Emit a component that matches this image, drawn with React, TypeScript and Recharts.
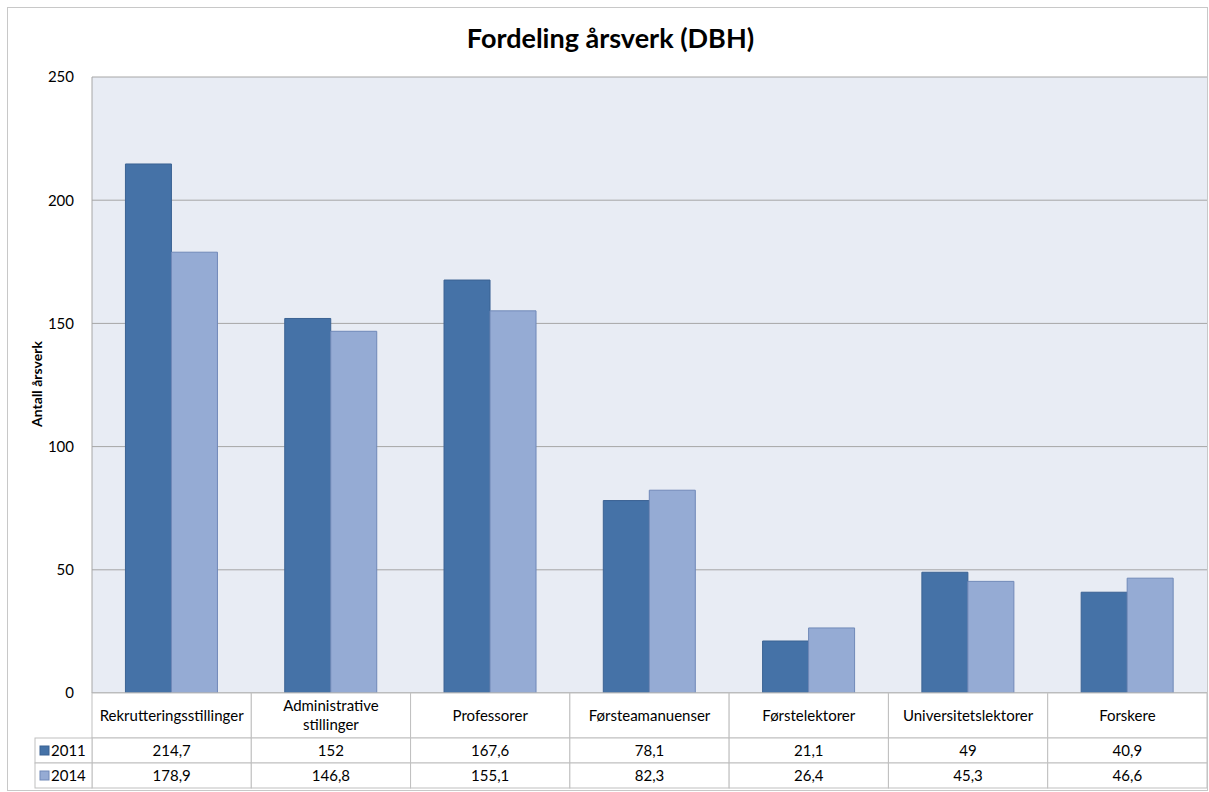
import React from "react";
import { BarChart, Bar, XAxis, YAxis, CartesianGrid } from "recharts";

const categories = [
  "Rekrutteringsstillinger",
  "Administrative stillinger",
  "Professorer",
  "Førsteamanuenser",
  "Førstelektorer",
  "Universitetslektorer",
  "Forskere",
];
const values2011 = [214.7, 152, 167.6, 78.1, 21.1, 49, 40.9];
const values2014 = [178.9, 146.8, 155.1, 82.3, 26.4, 45.3, 46.6];
const yTicks = [0, 50, 100, 150, 200, 250];
const seriesNames = ["2011", "2014"];

const data = categories.map((c, i) => ({ name: c, s2011: values2011[i], s2014: values2014[i] }));

const W = 1209;
const H = 792;
const PLOT_LEFT = 92;
const PLOT_RIGHT = 1207;
const PLOT_TOP = 77;
const PLOT_BOTTOM = 693;
const CELL_W = (PLOT_RIGHT - PLOT_LEFT) / categories.length;
const HEAD_H = 45;
const ROW_H = 25;
const FONT = "Lato, 'Open Sans', sans-serif";
const C1 = "#4572A7";
const C1S = "#3B6293";
const C2 = "#95ABD4";
const C2S = "#7089B8";
const BORDER = "#BFBFBF";
const FS = 15;

const fmt = (v: number) => String(v).replace(".", ",");

const TableTick = (props: any) => {
  const { payload, index } = props;
  const i = index ?? payload?.index ?? 0;
  const x0 = PLOT_LEFT + i * CELL_W;
  const cx = x0 + CELL_W / 2;
  const label = String(payload?.value ?? "");
  const y0 = PLOT_BOTTOM;
  const words = label === "Administrative stillinger" ? ["Administrative", "stillinger"] : [label];
  return (
    <g>
      <rect x={x0} y={y0} width={CELL_W} height={HEAD_H} fill="#fff" stroke={BORDER} />
      <rect x={x0} y={y0 + HEAD_H} width={CELL_W} height={ROW_H} fill="#fff" stroke={BORDER} />
      <rect x={x0} y={y0 + HEAD_H + ROW_H} width={CELL_W} height={ROW_H} fill="#fff" stroke={BORDER} />
      {words.length === 1 ? (
        <text x={cx} y={y0 + 28} textAnchor="middle" fontSize={FS} fill="#000" fontFamily={FONT}>
          {words[0]}
        </text>
      ) : (
        <text textAnchor="middle" fontSize={FS} fill="#000" fontFamily={FONT}>
          <tspan x={cx} y={y0 + 18}>{words[0]}</tspan>
          <tspan x={cx} y={y0 + 37}>{words[1]}</tspan>
        </text>
      )}
      <text x={cx} y={y0 + HEAD_H + 18} textAnchor="middle" fontSize={FS} fill="#000" fontFamily={FONT}>
        {fmt(values2011[i])}
      </text>
      <text x={cx} y={y0 + HEAD_H + ROW_H + 18} textAnchor="middle" fontSize={FS} fill="#000" fontFamily={FONT}>
        {fmt(values2014[i])}
      </text>
      {i === 0 && (
        <g>
          <rect x={35} y={y0 + HEAD_H} width={PLOT_LEFT - 35} height={ROW_H} fill="#fff" stroke={BORDER} />
          <rect x={35} y={y0 + HEAD_H + ROW_H} width={PLOT_LEFT - 35} height={ROW_H} fill="#fff" stroke={BORDER} />
          <rect x={40} y={y0 + HEAD_H + 8} width={9} height={9} fill={C1} stroke={C1S} />
          <rect x={40} y={y0 + HEAD_H + ROW_H + 8} width={9} height={9} fill={C2} stroke={C2S} />
          <text x={51} y={y0 + HEAD_H + 18} fontSize={FS} fill="#000" fontFamily={FONT}>{seriesNames[0]}</text>
          <text x={51} y={y0 + HEAD_H + ROW_H + 18} fontSize={FS} fill="#000" fontFamily={FONT}>{seriesNames[1]}</text>
        </g>
      )}
    </g>
  );
};

const YLabel = () => (
  <text
    x={42}
    y={384}
    transform="rotate(-90 42 384)"
    textAnchor="middle"
    fontSize={14}
    fontWeight="bold"
    fill="#000"
    fontFamily={FONT}
  >
    Antall årsverk
  </text>
);

export default function App() {
  return (
    <div style={{ position: "absolute", left: 0, top: 0, width: W, height: H, background: "#fff", fontFamily: FONT }}>
      <div
        style={{
          position: "absolute",
          left: 7,
          top: 7,
          width: W - 8,
          height: H - 8,
          border: "1px solid #C8C8C8",
          boxSizing: "border-box",
        }}
      />
      <div
        style={{
          position: "absolute",
          left: 6,
          top: 22,
          width: W,
          textAlign: "center",
          fontSize: 27,
          lineHeight: "32px",
          fontWeight: "bold",
          color: "#000",
          fontFamily: FONT,
          zIndex: 2,
        }}
      >
        Fordeling årsverk (DBH)
      </div>
      <div style={{ position: "absolute", left: 0, top: 0 }}>
        <BarChart
          width={W}
          height={H}
          data={data}
          margin={{ top: PLOT_TOP, right: W - PLOT_RIGHT, bottom: 4, left: 30 }}
          barCategoryGap="21%"
          barGap={0}
        >
          <CartesianGrid vertical={false} fill="#E8ECF4" stroke="#A6A6A6" strokeWidth={1} />
          <XAxis
            dataKey="name"
            height={H - PLOT_BOTTOM - 4}
            axisLine={{ stroke: "#A6A6A6" }}
            tickLine={false}
            tick={<TableTick />}
            interval={0}
          />
          <YAxis
            width={PLOT_LEFT - 30}
            domain={[0, 250]}
            ticks={yTicks}
            axisLine={{ stroke: "#A6A6A6" }}
            tickLine={false}
            tick={{ fontSize: 15, fill: "#000", fontFamily: FONT }}
            tickMargin={12}
            label={{ content: <YLabel /> }}
          />
          <YAxis yAxisId="r" orientation="right" width={0} axisLine={{ stroke: "#D0D0D0" }} tick={false} tickLine={false} />
          <Bar dataKey="s2011" name={seriesNames[0]} fill={C1} stroke={C1S} isAnimationActive={false} />
          <Bar dataKey="s2014" name={seriesNames[1]} fill={C2} stroke={C2S} isAnimationActive={false} />
        </BarChart>
      </div>
    </div>
  );
}
